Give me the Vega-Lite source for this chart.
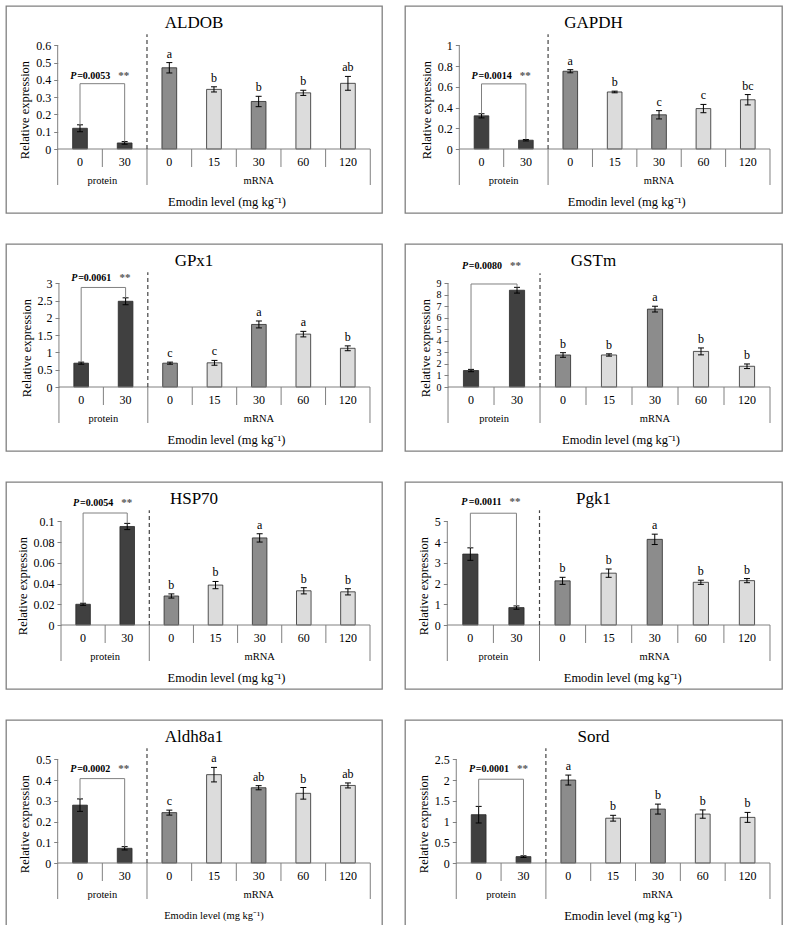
{
"$schema": "https://vega.github.io/schema/vega-lite/v6.json",
"padding": {"left": 5, "top": 5, "right": 0, "bottom": 0},
"background": "white",
"spacing": 29,
"datasets": {"d": [
{"gene":"ALDOB","cat":"P0","label":"0","grp":"protein","pat":"protein","mean":0.12,"lo":0.1,"hi":0.14,"letter":"","bracket":0.378,"plevel":0.42,"ptext":"=0.0053"},
{"gene":"ALDOB","cat":"P30","label":"30","grp":"protein","pat":"protein","mean":0.035,"lo":0.028,"hi":0.043,"letter":"","bracket":0.378},
{"gene":"ALDOB","cat":"M0","label":"0","grp":"mRNA","pat":"diag","mean":0.47,"lo":0.44,"hi":0.5,"letter":"a"},
{"gene":"ALDOB","cat":"M15","label":"15","grp":"mRNA","pat":"wave","mean":0.345,"lo":0.33,"hi":0.36,"letter":"b"},
{"gene":"ALDOB","cat":"M30","label":"30","grp":"mRNA","pat":"diag","mean":0.275,"lo":0.245,"hi":0.305,"letter":"b"},
{"gene":"ALDOB","cat":"M60","label":"60","grp":"mRNA","pat":"wave","mean":0.325,"lo":0.31,"hi":0.34,"letter":"b"},
{"gene":"ALDOB","cat":"M120","label":"120","grp":"mRNA","pat":"wave","mean":0.38,"lo":0.34,"hi":0.42,"letter":"ab"},
{"gene":"GAPDH","cat":"P0","label":"0","grp":"protein","pat":"protein","mean":0.32,"lo":0.3,"hi":0.34,"letter":"","bracket":0.628,"plevel":0.7,"ptext":"=0.0014"},
{"gene":"GAPDH","cat":"P30","label":"30","grp":"protein","pat":"protein","mean":0.085,"lo":0.078,"hi":0.092,"letter":"","bracket":0.628},
{"gene":"GAPDH","cat":"M0","label":"0","grp":"mRNA","pat":"diag","mean":0.75,"lo":0.735,"hi":0.765,"letter":"a"},
{"gene":"GAPDH","cat":"M15","label":"15","grp":"mRNA","pat":"wave","mean":0.55,"lo":0.542,"hi":0.558,"letter":"b"},
{"gene":"GAPDH","cat":"M30","label":"30","grp":"mRNA","pat":"diag","mean":0.33,"lo":0.29,"hi":0.37,"letter":"c"},
{"gene":"GAPDH","cat":"M60","label":"60","grp":"mRNA","pat":"wave","mean":0.39,"lo":0.35,"hi":0.43,"letter":"c"},
{"gene":"GAPDH","cat":"M120","label":"120","grp":"mRNA","pat":"wave","mean":0.475,"lo":0.425,"hi":0.525,"letter":"bc"},
{"gene":"GPx1","cat":"P0","label":"0","grp":"protein","pat":"protein","mean":0.69,"lo":0.66,"hi":0.72,"letter":"","bracket":2.88,"plevel":3.15,"ptext":"=0.0061"},
{"gene":"GPx1","cat":"P30","label":"30","grp":"protein","pat":"protein","mean":2.48,"lo":2.38,"hi":2.58,"letter":"","bracket":2.88},
{"gene":"GPx1","cat":"M0","label":"0","grp":"mRNA","pat":"diag","mean":0.69,"lo":0.66,"hi":0.72,"letter":"c"},
{"gene":"GPx1","cat":"M15","label":"15","grp":"mRNA","pat":"wave","mean":0.7,"lo":0.63,"hi":0.77,"letter":"c"},
{"gene":"GPx1","cat":"M30","label":"30","grp":"mRNA","pat":"diag","mean":1.81,"lo":1.71,"hi":1.91,"letter":"a"},
{"gene":"GPx1","cat":"M60","label":"60","grp":"mRNA","pat":"wave","mean":1.53,"lo":1.45,"hi":1.61,"letter":"a"},
{"gene":"GPx1","cat":"M120","label":"120","grp":"mRNA","pat":"wave","mean":1.12,"lo":1.05,"hi":1.19,"letter":"b"},
{"gene":"GSTm","cat":"P0","label":"0","grp":"protein","pat":"protein","mean":1.43,"lo":1.33,"hi":1.53,"letter":"","bracket":8.94,"plevel":10.46,"ptext":"=0.0080"},
{"gene":"GSTm","cat":"P30","label":"30","grp":"protein","pat":"protein","mean":8.4,"lo":8.15,"hi":8.65,"letter":"","bracket":8.94},
{"gene":"GSTm","cat":"M0","label":"0","grp":"mRNA","pat":"diag","mean":2.78,"lo":2.58,"hi":2.98,"letter":"b"},
{"gene":"GSTm","cat":"M15","label":"15","grp":"mRNA","pat":"wave","mean":2.78,"lo":2.68,"hi":2.88,"letter":"b"},
{"gene":"GSTm","cat":"M30","label":"30","grp":"mRNA","pat":"diag","mean":6.76,"lo":6.51,"hi":7.01,"letter":"a"},
{"gene":"GSTm","cat":"M60","label":"60","grp":"mRNA","pat":"wave","mean":3.09,"lo":2.79,"hi":3.39,"letter":"b"},
{"gene":"GSTm","cat":"M120","label":"120","grp":"mRNA","pat":"wave","mean":1.8,"lo":1.6,"hi":2.0,"letter":"b"},
{"gene":"HSP70","cat":"P0","label":"0","grp":"protein","pat":"protein","mean":0.02,"lo":0.019,"hi":0.021,"letter":"","bracket":0.108,"plevel":0.118,"ptext":"=0.0054"},
{"gene":"HSP70","cat":"P30","label":"30","grp":"protein","pat":"protein","mean":0.095,"lo":0.092,"hi":0.098,"letter":"","bracket":0.108},
{"gene":"HSP70","cat":"M0","label":"0","grp":"mRNA","pat":"diag","mean":0.028,"lo":0.026,"hi":0.03,"letter":"b"},
{"gene":"HSP70","cat":"M15","label":"15","grp":"mRNA","pat":"wave","mean":0.0385,"lo":0.035,"hi":0.042,"letter":"b"},
{"gene":"HSP70","cat":"M30","label":"30","grp":"mRNA","pat":"diag","mean":0.084,"lo":0.08,"hi":0.088,"letter":"a"},
{"gene":"HSP70","cat":"M60","label":"60","grp":"mRNA","pat":"wave","mean":0.033,"lo":0.03,"hi":0.036,"letter":"b"},
{"gene":"HSP70","cat":"M120","label":"120","grp":"mRNA","pat":"wave","mean":0.032,"lo":0.029,"hi":0.035,"letter":"b"},
{"gene":"Pgk1","cat":"P0","label":"0","grp":"protein","pat":"protein","mean":3.42,"lo":3.12,"hi":3.72,"letter":"","bracket":5.39,"plevel":5.92,"ptext":"=0.0011"},
{"gene":"Pgk1","cat":"P30","label":"30","grp":"protein","pat":"protein","mean":0.84,"lo":0.76,"hi":0.92,"letter":"","bracket":5.39},
{"gene":"Pgk1","cat":"M0","label":"0","grp":"mRNA","pat":"diag","mean":2.13,"lo":1.96,"hi":2.3,"letter":"b"},
{"gene":"Pgk1","cat":"M15","label":"15","grp":"mRNA","pat":"wave","mean":2.5,"lo":2.3,"hi":2.7,"letter":"b"},
{"gene":"Pgk1","cat":"M30","label":"30","grp":"mRNA","pat":"diag","mean":4.13,"lo":3.88,"hi":4.38,"letter":"a"},
{"gene":"Pgk1","cat":"M60","label":"60","grp":"mRNA","pat":"wave","mean":2.06,"lo":1.96,"hi":2.16,"letter":"b"},
{"gene":"Pgk1","cat":"M120","label":"120","grp":"mRNA","pat":"wave","mean":2.14,"lo":2.04,"hi":2.24,"letter":"b"},
{"gene":"Aldh8a1","cat":"P0","label":"0","grp":"protein","pat":"protein","mean":0.279,"lo":0.249,"hi":0.309,"letter":"","bracket":0.407,"plevel":0.453,"ptext":"=0.0002"},
{"gene":"Aldh8a1","cat":"P30","label":"30","grp":"protein","pat":"protein","mean":0.071,"lo":0.063,"hi":0.079,"letter":"","bracket":0.407},
{"gene":"Aldh8a1","cat":"M0","label":"0","grp":"mRNA","pat":"diag","mean":0.243,"lo":0.231,"hi":0.255,"letter":"c"},
{"gene":"Aldh8a1","cat":"M15","label":"15","grp":"mRNA","pat":"wave","mean":0.426,"lo":0.391,"hi":0.461,"letter":"a"},
{"gene":"Aldh8a1","cat":"M30","label":"30","grp":"mRNA","pat":"diag","mean":0.363,"lo":0.353,"hi":0.373,"letter":"ab"},
{"gene":"Aldh8a1","cat":"M60","label":"60","grp":"mRNA","pat":"wave","mean":0.336,"lo":0.308,"hi":0.364,"letter":"b"},
{"gene":"Aldh8a1","cat":"M120","label":"120","grp":"mRNA","pat":"wave","mean":0.374,"lo":0.362,"hi":0.386,"letter":"ab"},
{"gene":"Sord","cat":"P0","label":"0","grp":"protein","pat":"protein","mean":1.165,"lo":0.965,"hi":1.365,"letter":"","bracket":2.02,"plevel":2.26,"ptext":"=0.0001"},
{"gene":"Sord","cat":"P30","label":"30","grp":"protein","pat":"protein","mean":0.154,"lo":0.134,"hi":0.174,"letter":"","bracket":2.02},
{"gene":"Sord","cat":"M0","label":"0","grp":"mRNA","pat":"diag","mean":2.0,"lo":1.88,"hi":2.12,"letter":"a"},
{"gene":"Sord","cat":"M15","label":"15","grp":"mRNA","pat":"wave","mean":1.08,"lo":1.01,"hi":1.15,"letter":"b"},
{"gene":"Sord","cat":"M30","label":"30","grp":"mRNA","pat":"diag","mean":1.3,"lo":1.18,"hi":1.42,"letter":"b"},
{"gene":"Sord","cat":"M60","label":"60","grp":"mRNA","pat":"wave","mean":1.18,"lo":1.08,"hi":1.28,"letter":"b"},
{"gene":"Sord","cat":"M120","label":"120","grp":"mRNA","pat":"wave","mean":1.1,"lo":0.98,"hi":1.22,"letter":"b"}
]},
"data": {"name": "d"},
"vconcat": [
{"hconcat": [
{"width": 376, "height": 207, "title": "ALDOB", "transform": [{"filter": "datum.gene == 'ALDOB'"}],
 "layer": [
  {"mark": {"type": "bar", "width": {"band": 0.33}, "stroke": "#2a2a2a", "strokeWidth": 0.8},
   "encoding": {"x": {"field": "cat", "type": "nominal", "scale": {"domain": ["P0","P30","M0","M15","M30","M60","M120"], "paddingInner": 0, "paddingOuter": 0.71, "align": 0.815}, "axis": null},
    "y": {"field": "mean", "type": "quantitative", "scale": {"domain": [-0.3702, 0.8274], "nice": false, "zero": false}, "axis": {"values": [0,0.1,0.2,0.3,0.4,0.5,0.6], "tickCount": 20, "offset": -51.7, "title": "Relative expression", "labelOverlap": false, "labelFlush": false, "format": "~g", "labelBound": false}},
    "fill": {"field": "pat", "type": "nominal", "scale": {"domain": ["protein","diag","wave"], "range": ["#404040","#8c8c8c","#dcdcdc"]}, "legend": null}}},
  {"mark": {"type": "rule", "color": "black"}, "encoding": {"x": {"field": "cat", "type": "nominal"}, "y": {"field": "lo", "type": "quantitative"}, "y2": {"field": "hi"}}},
  {"mark": {"type": "tick", "orient": "horizontal", "size": 6, "thickness": 1, "color": "black", "opacity": 1}, "encoding": {"x": {"field": "cat", "type": "nominal"}, "y": {"field": "lo", "type": "quantitative"}}},
  {"mark": {"type": "tick", "orient": "horizontal", "size": 6, "thickness": 1, "color": "black", "opacity": 1}, "encoding": {"x": {"field": "cat", "type": "nominal"}, "y": {"field": "hi", "type": "quantitative"}}},
  {"transform": [{"filter": "datum.grp == 'mRNA'"}], "mark": {"type": "text", "baseline": "bottom", "dy": -2, "font": "Liberation Serif", "fontSize": 12, "color": "black"}, "encoding": {"x": {"field": "cat", "type": "nominal"}, "y": {"field": "hi", "type": "quantitative"}, "text": {"field": "letter"}}},
  {"transform": [{"filter": "datum.grp == 'protein'"}], "mark": {"type": "rule", "color": "#808080"}, "encoding": {"x": {"field": "cat", "type": "nominal"}, "y": {"field": "hi", "type": "quantitative"}, "y2": {"field": "bracket"}}},
  {"transform": [{"filter": "datum.cat == 'P0'"}], "mark": {"type": "rule", "color": "#808080"}, "encoding": {"x": {"datum": "P0", "type": "nominal"}, "x2": {"datum": "P30"}, "y": {"field": "bracket", "type": "quantitative"}}},
  {"transform": [{"filter": "datum.cat == 'P0'"}], "mark": {"type": "text", "align": "right", "baseline": "middle", "dx": 8, "fontWeight": "bold", "fontSize": 10, "font": "Liberation Serif", "color": "black"}, "encoding": {"x": {"datum": "P30", "type": "nominal", "bandPosition": 0}, "y": {"field": "plevel", "type": "quantitative"}, "text": {"field": "ptext"}}},
  {"transform": [{"filter": "datum.cat == 'P0'"}], "mark": {"type": "text", "align": "right", "baseline": "middle", "dx": -26, "fontWeight": "bold", "fontStyle": "italic", "fontSize": 10, "font": "Liberation Serif", "color": "black"}, "encoding": {"x": {"datum": "P30", "type": "nominal", "bandPosition": 0}, "y": {"field": "plevel", "type": "quantitative"}, "text": {"value": "P"}}},
  {"transform": [{"filter": "datum.cat == 'P0'"}], "mark": {"type": "text", "align": "left", "baseline": "middle", "dx": 16, "fontWeight": "bold", "fontSize": 11, "font": "Liberation Serif", "color": "#555555"}, "encoding": {"x": {"datum": "P30", "type": "nominal", "bandPosition": 0}, "y": {"field": "plevel", "type": "quantitative"}, "text": {"value": "**"}}},
  {"transform": [{"filter": "datum.cat == 'P0'"}], "mark": {"type": "rule", "color": "#808080"}, "encoding": {"x": {"datum": "P0", "type": "nominal", "bandPosition": 0}, "x2": {"datum": "M120", "bandPosition": 1}, "y": {"datum": 0, "type": "quantitative"}}},
  {"transform": [{"filter": "datum.cat == 'P0'"}], "mark": {"type": "rule", "color": "#808080"}, "encoding": {"x": {"datum": "P0", "type": "nominal", "bandPosition": 0}, "y": {"datum": 0, "type": "quantitative"}, "y2": {"datum": 0.6}}},
  {"transform": [{"filter": "datum.cat != 'P0' && datum.cat != 'M0'"}], "mark": {"type": "rule", "color": "#808080", "y2Offset": 18}, "encoding": {"x": {"field": "cat", "type": "nominal", "bandPosition": 0}, "y": {"datum": 0, "type": "quantitative"}, "y2": {"datum": 0}}},
  {"transform": [{"filter": "datum.cat == 'P0' || datum.cat == 'M0'"}], "mark": {"type": "rule", "color": "#808080", "y2Offset": 36}, "encoding": {"x": {"field": "cat", "type": "nominal", "bandPosition": 0}, "y": {"datum": 0, "type": "quantitative"}, "y2": {"datum": 0}}},
  {"transform": [{"filter": "datum.cat == 'P0'"}], "mark": {"type": "rule", "color": "#808080", "y2Offset": 36}, "encoding": {"x": {"datum": "M120", "type": "nominal", "bandPosition": 1}, "y": {"datum": 0, "type": "quantitative"}, "y2": {"datum": 0}}},
  {"transform": [{"filter": "datum.cat == 'P0'"}], "mark": {"type": "rule", "y2Offset": -11, "strokeDash": [4, 3], "color": "#444444", "strokeWidth": 1.2}, "encoding": {"x": {"datum": "M0", "type": "nominal", "bandPosition": 0}, "y": {"datum": 0, "type": "quantitative"}, "y2": {"datum": 0.6}}},
  {"mark": {"type": "text", "baseline": "middle", "dy": 13, "font": "Liberation Serif", "fontSize": 12, "color": "black"}, "encoding": {"x": {"field": "cat", "type": "nominal"}, "y": {"datum": 0, "type": "quantitative"}, "text": {"field": "label"}}},
  {"transform": [{"filter": "datum.cat == 'P0'"}], "mark": {"type": "text", "baseline": "middle", "dy": 31.5, "font": "Liberation Serif", "fontSize": 10.5, "color": "black"}, "encoding": {"x": {"datum": "P30", "type": "nominal", "bandPosition": 0}, "y": {"datum": 0, "type": "quantitative"}, "text": {"value": "protein"}}},
  {"transform": [{"filter": "datum.cat == 'P0'"}], "mark": {"type": "text", "baseline": "middle", "dy": 31.5, "font": "Liberation Serif", "fontSize": 10.5, "color": "black"}, "encoding": {"x": {"datum": "M30", "type": "nominal"}, "y": {"datum": 0, "type": "quantitative"}, "text": {"value": "mRNA"}}},
  {"transform": [{"filter": "datum.cat == 'P0'"}], "mark": {"type": "text", "baseline": "middle", "dy": 52.5, "dx": 13, "font": "Liberation Serif", "fontSize": 12.5, "color": "black"}, "encoding": {"x": {"datum": "M15", "type": "nominal"}, "y": {"datum": 0, "type": "quantitative"}, "text": {"value": "Emodin level (mg kg⁻¹)"}}}
 ]},
{"width": 377, "height": 207, "title": "GAPDH", "transform": [{"filter": "datum.gene == 'GAPDH'"}],
 "layer": [
  {"mark": {"type": "bar", "width": {"band": 0.33}, "stroke": "#2a2a2a", "strokeWidth": 0.8},
   "encoding": {"x": {"field": "cat", "type": "nominal", "scale": {"domain": ["P0","P30","M0","M15","M30","M60","M120"], "paddingInner": 0, "paddingOuter": 0.747, "align": 0.819}, "axis": null},
    "y": {"field": "mean", "type": "quantitative", "scale": {"domain": [-0.617, 1.379], "nice": false, "zero": false}, "axis": {"values": [0,0.2,0.4,0.6,0.8,1], "tickCount": 20, "offset": -54.3, "title": "Relative expression", "labelOverlap": false, "labelFlush": false, "format": "~g", "labelBound": false}},
    "fill": {"field": "pat", "type": "nominal", "scale": {"domain": ["protein","diag","wave"], "range": ["#404040","#8c8c8c","#dcdcdc"]}, "legend": null}}},
  {"mark": {"type": "rule", "color": "black"}, "encoding": {"x": {"field": "cat", "type": "nominal"}, "y": {"field": "lo", "type": "quantitative"}, "y2": {"field": "hi"}}},
  {"mark": {"type": "tick", "orient": "horizontal", "size": 6, "thickness": 1, "color": "black", "opacity": 1}, "encoding": {"x": {"field": "cat", "type": "nominal"}, "y": {"field": "lo", "type": "quantitative"}}},
  {"mark": {"type": "tick", "orient": "horizontal", "size": 6, "thickness": 1, "color": "black", "opacity": 1}, "encoding": {"x": {"field": "cat", "type": "nominal"}, "y": {"field": "hi", "type": "quantitative"}}},
  {"transform": [{"filter": "datum.grp == 'mRNA'"}], "mark": {"type": "text", "baseline": "bottom", "dy": -2, "font": "Liberation Serif", "fontSize": 12, "color": "black"}, "encoding": {"x": {"field": "cat", "type": "nominal"}, "y": {"field": "hi", "type": "quantitative"}, "text": {"field": "letter"}}},
  {"transform": [{"filter": "datum.grp == 'protein'"}], "mark": {"type": "rule", "color": "#808080"}, "encoding": {"x": {"field": "cat", "type": "nominal"}, "y": {"field": "hi", "type": "quantitative"}, "y2": {"field": "bracket"}}},
  {"transform": [{"filter": "datum.cat == 'P0'"}], "mark": {"type": "rule", "color": "#808080"}, "encoding": {"x": {"datum": "P0", "type": "nominal"}, "x2": {"datum": "P30"}, "y": {"field": "bracket", "type": "quantitative"}}},
  {"transform": [{"filter": "datum.cat == 'P0'"}], "mark": {"type": "text", "align": "right", "baseline": "middle", "dx": 8, "fontWeight": "bold", "fontSize": 10, "font": "Liberation Serif", "color": "black"}, "encoding": {"x": {"datum": "P30", "type": "nominal", "bandPosition": 0}, "y": {"field": "plevel", "type": "quantitative"}, "text": {"field": "ptext"}}},
  {"transform": [{"filter": "datum.cat == 'P0'"}], "mark": {"type": "text", "align": "right", "baseline": "middle", "dx": -26, "fontWeight": "bold", "fontStyle": "italic", "fontSize": 10, "font": "Liberation Serif", "color": "black"}, "encoding": {"x": {"datum": "P30", "type": "nominal", "bandPosition": 0}, "y": {"field": "plevel", "type": "quantitative"}, "text": {"value": "P"}}},
  {"transform": [{"filter": "datum.cat == 'P0'"}], "mark": {"type": "text", "align": "left", "baseline": "middle", "dx": 16, "fontWeight": "bold", "fontSize": 11, "font": "Liberation Serif", "color": "#555555"}, "encoding": {"x": {"datum": "P30", "type": "nominal", "bandPosition": 0}, "y": {"field": "plevel", "type": "quantitative"}, "text": {"value": "**"}}},
  {"transform": [{"filter": "datum.cat == 'P0'"}], "mark": {"type": "rule", "color": "#808080"}, "encoding": {"x": {"datum": "P0", "type": "nominal", "bandPosition": 0}, "x2": {"datum": "M120", "bandPosition": 1}, "y": {"datum": 0, "type": "quantitative"}}},
  {"transform": [{"filter": "datum.cat == 'P0'"}], "mark": {"type": "rule", "color": "#808080"}, "encoding": {"x": {"datum": "P0", "type": "nominal", "bandPosition": 0}, "y": {"datum": 0, "type": "quantitative"}, "y2": {"datum": 1}}},
  {"transform": [{"filter": "datum.cat != 'P0' && datum.cat != 'M0'"}], "mark": {"type": "rule", "color": "#808080", "y2Offset": 18}, "encoding": {"x": {"field": "cat", "type": "nominal", "bandPosition": 0}, "y": {"datum": 0, "type": "quantitative"}, "y2": {"datum": 0}}},
  {"transform": [{"filter": "datum.cat == 'P0' || datum.cat == 'M0'"}], "mark": {"type": "rule", "color": "#808080", "y2Offset": 36}, "encoding": {"x": {"field": "cat", "type": "nominal", "bandPosition": 0}, "y": {"datum": 0, "type": "quantitative"}, "y2": {"datum": 0}}},
  {"transform": [{"filter": "datum.cat == 'P0'"}], "mark": {"type": "rule", "color": "#808080", "y2Offset": 36}, "encoding": {"x": {"datum": "M120", "type": "nominal", "bandPosition": 1}, "y": {"datum": 0, "type": "quantitative"}, "y2": {"datum": 0}}},
  {"transform": [{"filter": "datum.cat == 'P0'"}], "mark": {"type": "rule", "y2Offset": -11, "strokeDash": [4, 3], "color": "#444444", "strokeWidth": 1.2}, "encoding": {"x": {"datum": "M0", "type": "nominal", "bandPosition": 0}, "y": {"datum": 0, "type": "quantitative"}, "y2": {"datum": 1}}},
  {"mark": {"type": "text", "baseline": "middle", "dy": 13, "font": "Liberation Serif", "fontSize": 12, "color": "black"}, "encoding": {"x": {"field": "cat", "type": "nominal"}, "y": {"datum": 0, "type": "quantitative"}, "text": {"field": "label"}}},
  {"transform": [{"filter": "datum.cat == 'P0'"}], "mark": {"type": "text", "baseline": "middle", "dy": 31.5, "font": "Liberation Serif", "fontSize": 10.5, "color": "black"}, "encoding": {"x": {"datum": "P30", "type": "nominal", "bandPosition": 0}, "y": {"datum": 0, "type": "quantitative"}, "text": {"value": "protein"}}},
  {"transform": [{"filter": "datum.cat == 'P0'"}], "mark": {"type": "text", "baseline": "middle", "dy": 31.5, "font": "Liberation Serif", "fontSize": 10.5, "color": "black"}, "encoding": {"x": {"datum": "M30", "type": "nominal"}, "y": {"datum": 0, "type": "quantitative"}, "text": {"value": "mRNA"}}},
  {"transform": [{"filter": "datum.cat == 'P0'"}], "mark": {"type": "text", "baseline": "middle", "dy": 52.5, "dx": 12, "font": "Liberation Serif", "fontSize": 12.5, "color": "black"}, "encoding": {"x": {"datum": "M15", "type": "nominal"}, "y": {"datum": 0, "type": "quantitative"}, "text": {"value": "Emodin level (mg kg⁻¹)"}}}
 ]}
], "spacing": 21},
{"hconcat": [
{"width": 376, "height": 207, "title": "GPx1", "transform": [{"filter": "datum.gene == 'GPx1'"}],
 "layer": [
  {"mark": {"type": "bar", "width": {"band": 0.33}, "stroke": "#2a2a2a", "strokeWidth": 0.8},
   "encoding": {"x": {"field": "cat", "type": "nominal", "scale": {"domain": ["P0","P30","M0","M15","M30","M60","M120"], "paddingInner": 0, "paddingOuter": 0.731, "align": 0.815}, "axis": null},
    "y": {"field": "mean", "type": "quantitative", "scale": {"domain": [-1.851, 4.137], "nice": false, "zero": false}, "axis": {"values": [0,0.5,1,1.5,2,2.5,3], "tickCount": 20, "offset": -53, "title": "Relative expression", "labelOverlap": false, "labelFlush": false, "format": "~g", "labelBound": false}},
    "fill": {"field": "pat", "type": "nominal", "scale": {"domain": ["protein","diag","wave"], "range": ["#404040","#8c8c8c","#dcdcdc"]}, "legend": null}}},
  {"mark": {"type": "rule", "color": "black"}, "encoding": {"x": {"field": "cat", "type": "nominal"}, "y": {"field": "lo", "type": "quantitative"}, "y2": {"field": "hi"}}},
  {"mark": {"type": "tick", "orient": "horizontal", "size": 6, "thickness": 1, "color": "black", "opacity": 1}, "encoding": {"x": {"field": "cat", "type": "nominal"}, "y": {"field": "lo", "type": "quantitative"}}},
  {"mark": {"type": "tick", "orient": "horizontal", "size": 6, "thickness": 1, "color": "black", "opacity": 1}, "encoding": {"x": {"field": "cat", "type": "nominal"}, "y": {"field": "hi", "type": "quantitative"}}},
  {"transform": [{"filter": "datum.grp == 'mRNA'"}], "mark": {"type": "text", "baseline": "bottom", "dy": -2, "font": "Liberation Serif", "fontSize": 12, "color": "black"}, "encoding": {"x": {"field": "cat", "type": "nominal"}, "y": {"field": "hi", "type": "quantitative"}, "text": {"field": "letter"}}},
  {"transform": [{"filter": "datum.grp == 'protein'"}], "mark": {"type": "rule", "color": "#808080"}, "encoding": {"x": {"field": "cat", "type": "nominal"}, "y": {"field": "hi", "type": "quantitative"}, "y2": {"field": "bracket"}}},
  {"transform": [{"filter": "datum.cat == 'P0'"}], "mark": {"type": "rule", "color": "#808080"}, "encoding": {"x": {"datum": "P0", "type": "nominal"}, "x2": {"datum": "P30"}, "y": {"field": "bracket", "type": "quantitative"}}},
  {"transform": [{"filter": "datum.cat == 'P0'"}], "mark": {"type": "text", "align": "right", "baseline": "middle", "dx": 8, "fontWeight": "bold", "fontSize": 10, "font": "Liberation Serif", "color": "black"}, "encoding": {"x": {"datum": "P30", "type": "nominal", "bandPosition": 0}, "y": {"field": "plevel", "type": "quantitative"}, "text": {"field": "ptext"}}},
  {"transform": [{"filter": "datum.cat == 'P0'"}], "mark": {"type": "text", "align": "right", "baseline": "middle", "dx": -26, "fontWeight": "bold", "fontStyle": "italic", "fontSize": 10, "font": "Liberation Serif", "color": "black"}, "encoding": {"x": {"datum": "P30", "type": "nominal", "bandPosition": 0}, "y": {"field": "plevel", "type": "quantitative"}, "text": {"value": "P"}}},
  {"transform": [{"filter": "datum.cat == 'P0'"}], "mark": {"type": "text", "align": "left", "baseline": "middle", "dx": 16, "fontWeight": "bold", "fontSize": 11, "font": "Liberation Serif", "color": "#555555"}, "encoding": {"x": {"datum": "P30", "type": "nominal", "bandPosition": 0}, "y": {"field": "plevel", "type": "quantitative"}, "text": {"value": "**"}}},
  {"transform": [{"filter": "datum.cat == 'P0'"}], "mark": {"type": "rule", "color": "#808080"}, "encoding": {"x": {"datum": "P0", "type": "nominal", "bandPosition": 0}, "x2": {"datum": "M120", "bandPosition": 1}, "y": {"datum": 0, "type": "quantitative"}}},
  {"transform": [{"filter": "datum.cat == 'P0'"}], "mark": {"type": "rule", "color": "#808080"}, "encoding": {"x": {"datum": "P0", "type": "nominal", "bandPosition": 0}, "y": {"datum": 0, "type": "quantitative"}, "y2": {"datum": 3}}},
  {"transform": [{"filter": "datum.cat != 'P0' && datum.cat != 'M0'"}], "mark": {"type": "rule", "color": "#808080", "y2Offset": 18}, "encoding": {"x": {"field": "cat", "type": "nominal", "bandPosition": 0}, "y": {"datum": 0, "type": "quantitative"}, "y2": {"datum": 0}}},
  {"transform": [{"filter": "datum.cat == 'P0' || datum.cat == 'M0'"}], "mark": {"type": "rule", "color": "#808080", "y2Offset": 36}, "encoding": {"x": {"field": "cat", "type": "nominal", "bandPosition": 0}, "y": {"datum": 0, "type": "quantitative"}, "y2": {"datum": 0}}},
  {"transform": [{"filter": "datum.cat == 'P0'"}], "mark": {"type": "rule", "color": "#808080", "y2Offset": 36}, "encoding": {"x": {"datum": "M120", "type": "nominal", "bandPosition": 1}, "y": {"datum": 0, "type": "quantitative"}, "y2": {"datum": 0}}},
  {"transform": [{"filter": "datum.cat == 'P0'"}], "mark": {"type": "rule", "y2Offset": -11, "strokeDash": [4, 3], "color": "#444444", "strokeWidth": 1.2}, "encoding": {"x": {"datum": "M0", "type": "nominal", "bandPosition": 0}, "y": {"datum": 0, "type": "quantitative"}, "y2": {"datum": 3}}},
  {"mark": {"type": "text", "baseline": "middle", "dy": 13, "font": "Liberation Serif", "fontSize": 12, "color": "black"}, "encoding": {"x": {"field": "cat", "type": "nominal"}, "y": {"datum": 0, "type": "quantitative"}, "text": {"field": "label"}}},
  {"transform": [{"filter": "datum.cat == 'P0'"}], "mark": {"type": "text", "baseline": "middle", "dy": 31.5, "font": "Liberation Serif", "fontSize": 10.5, "color": "black"}, "encoding": {"x": {"datum": "P30", "type": "nominal", "bandPosition": 0}, "y": {"datum": 0, "type": "quantitative"}, "text": {"value": "protein"}}},
  {"transform": [{"filter": "datum.cat == 'P0'"}], "mark": {"type": "text", "baseline": "middle", "dy": 31.5, "font": "Liberation Serif", "fontSize": 10.5, "color": "black"}, "encoding": {"x": {"datum": "M30", "type": "nominal"}, "y": {"datum": 0, "type": "quantitative"}, "text": {"value": "mRNA"}}},
  {"transform": [{"filter": "datum.cat == 'P0'"}], "mark": {"type": "text", "baseline": "middle", "dy": 52.5, "dx": 12, "font": "Liberation Serif", "fontSize": 12.5, "color": "black"}, "encoding": {"x": {"datum": "M15", "type": "nominal"}, "y": {"datum": 0, "type": "quantitative"}, "text": {"value": "Emodin level (mg kg⁻¹)"}}}
 ]},
{"width": 377, "height": 207, "title": "GSTm", "transform": [{"filter": "datum.gene == 'GSTm'"}],
 "layer": [
  {"mark": {"type": "bar", "width": {"band": 0.33}, "stroke": "#2a2a2a", "strokeWidth": 0.8},
   "encoding": {"x": {"field": "cat", "type": "nominal", "scale": {"domain": ["P0","P30","M0","M15","M30","M60","M120"], "paddingInner": 0, "paddingOuter": 0.598, "align": 0.782}, "axis": null},
    "y": {"field": "mean", "type": "quantitative", "scale": {"domain": [-5.553, 12.411], "nice": false, "zero": false}, "axis": {"values": [0,1,2,3,4,5,6,7,8,9], "tickCount": 20, "offset": -43, "title": "Relative expression", "labelFontSize": 10, "labelOverlap": false, "labelFlush": false, "format": "~g", "labelBound": false}},
    "fill": {"field": "pat", "type": "nominal", "scale": {"domain": ["protein","diag","wave"], "range": ["#404040","#8c8c8c","#dcdcdc"]}, "legend": null}}},
  {"mark": {"type": "rule", "color": "black"}, "encoding": {"x": {"field": "cat", "type": "nominal"}, "y": {"field": "lo", "type": "quantitative"}, "y2": {"field": "hi"}}},
  {"mark": {"type": "tick", "orient": "horizontal", "size": 6, "thickness": 1, "color": "black", "opacity": 1}, "encoding": {"x": {"field": "cat", "type": "nominal"}, "y": {"field": "lo", "type": "quantitative"}}},
  {"mark": {"type": "tick", "orient": "horizontal", "size": 6, "thickness": 1, "color": "black", "opacity": 1}, "encoding": {"x": {"field": "cat", "type": "nominal"}, "y": {"field": "hi", "type": "quantitative"}}},
  {"transform": [{"filter": "datum.grp == 'mRNA'"}], "mark": {"type": "text", "baseline": "bottom", "dy": -2, "font": "Liberation Serif", "fontSize": 12, "color": "black"}, "encoding": {"x": {"field": "cat", "type": "nominal"}, "y": {"field": "hi", "type": "quantitative"}, "text": {"field": "letter"}}},
  {"transform": [{"filter": "datum.grp == 'protein'"}], "mark": {"type": "rule", "color": "#808080"}, "encoding": {"x": {"field": "cat", "type": "nominal"}, "y": {"field": "hi", "type": "quantitative"}, "y2": {"field": "bracket"}}},
  {"transform": [{"filter": "datum.cat == 'P0'"}], "mark": {"type": "rule", "color": "#808080"}, "encoding": {"x": {"datum": "P0", "type": "nominal"}, "x2": {"datum": "P30"}, "y": {"field": "bracket", "type": "quantitative"}}},
  {"transform": [{"filter": "datum.cat == 'P0'"}], "mark": {"type": "text", "align": "right", "baseline": "middle", "dx": 8, "fontWeight": "bold", "fontSize": 10, "font": "Liberation Serif", "color": "black"}, "encoding": {"x": {"datum": "P30", "type": "nominal", "bandPosition": 0}, "y": {"field": "plevel", "type": "quantitative"}, "text": {"field": "ptext"}}},
  {"transform": [{"filter": "datum.cat == 'P0'"}], "mark": {"type": "text", "align": "right", "baseline": "middle", "dx": -26, "fontWeight": "bold", "fontStyle": "italic", "fontSize": 10, "font": "Liberation Serif", "color": "black"}, "encoding": {"x": {"datum": "P30", "type": "nominal", "bandPosition": 0}, "y": {"field": "plevel", "type": "quantitative"}, "text": {"value": "P"}}},
  {"transform": [{"filter": "datum.cat == 'P0'"}], "mark": {"type": "text", "align": "left", "baseline": "middle", "dx": 16, "fontWeight": "bold", "fontSize": 11, "font": "Liberation Serif", "color": "#555555"}, "encoding": {"x": {"datum": "P30", "type": "nominal", "bandPosition": 0}, "y": {"field": "plevel", "type": "quantitative"}, "text": {"value": "**"}}},
  {"transform": [{"filter": "datum.cat == 'P0'"}], "mark": {"type": "rule", "color": "#808080"}, "encoding": {"x": {"datum": "P0", "type": "nominal", "bandPosition": 0}, "x2": {"datum": "M120", "bandPosition": 1}, "y": {"datum": 0, "type": "quantitative"}}},
  {"transform": [{"filter": "datum.cat == 'P0'"}], "mark": {"type": "rule", "color": "#808080"}, "encoding": {"x": {"datum": "P0", "type": "nominal", "bandPosition": 0}, "y": {"datum": 0, "type": "quantitative"}, "y2": {"datum": 9}}},
  {"transform": [{"filter": "datum.cat != 'P0' && datum.cat != 'M0'"}], "mark": {"type": "rule", "color": "#808080", "y2Offset": 18}, "encoding": {"x": {"field": "cat", "type": "nominal", "bandPosition": 0}, "y": {"datum": 0, "type": "quantitative"}, "y2": {"datum": 0}}},
  {"transform": [{"filter": "datum.cat == 'P0' || datum.cat == 'M0'"}], "mark": {"type": "rule", "color": "#808080", "y2Offset": 36}, "encoding": {"x": {"field": "cat", "type": "nominal", "bandPosition": 0}, "y": {"datum": 0, "type": "quantitative"}, "y2": {"datum": 0}}},
  {"transform": [{"filter": "datum.cat == 'P0'"}], "mark": {"type": "rule", "color": "#808080", "y2Offset": 36}, "encoding": {"x": {"datum": "M120", "type": "nominal", "bandPosition": 1}, "y": {"datum": 0, "type": "quantitative"}, "y2": {"datum": 0}}},
  {"transform": [{"filter": "datum.cat == 'P0'"}], "mark": {"type": "rule", "y2Offset": -10, "strokeDash": [4, 3], "color": "#444444", "strokeWidth": 1.2}, "encoding": {"x": {"datum": "M0", "type": "nominal", "bandPosition": 0}, "y": {"datum": 0, "type": "quantitative"}, "y2": {"datum": 9}}},
  {"mark": {"type": "text", "baseline": "middle", "dy": 13, "font": "Liberation Serif", "fontSize": 12, "color": "black"}, "encoding": {"x": {"field": "cat", "type": "nominal"}, "y": {"datum": 0, "type": "quantitative"}, "text": {"field": "label"}}},
  {"transform": [{"filter": "datum.cat == 'P0'"}], "mark": {"type": "text", "baseline": "middle", "dy": 31.5, "font": "Liberation Serif", "fontSize": 10.5, "color": "black"}, "encoding": {"x": {"datum": "P30", "type": "nominal", "bandPosition": 0}, "y": {"datum": 0, "type": "quantitative"}, "text": {"value": "protein"}}},
  {"transform": [{"filter": "datum.cat == 'P0'"}], "mark": {"type": "text", "baseline": "middle", "dy": 31.5, "font": "Liberation Serif", "fontSize": 10.5, "color": "black"}, "encoding": {"x": {"datum": "M30", "type": "nominal"}, "y": {"datum": 0, "type": "quantitative"}, "text": {"value": "mRNA"}}},
  {"transform": [{"filter": "datum.cat == 'P0'"}], "mark": {"type": "text", "baseline": "middle", "dy": 52.5, "dx": 12, "font": "Liberation Serif", "fontSize": 12.5, "color": "black"}, "encoding": {"x": {"datum": "M15", "type": "nominal"}, "y": {"datum": 0, "type": "quantitative"}, "text": {"value": "Emodin level (mg kg⁻¹)"}}}
 ]}
], "spacing": 21},
{"hconcat": [
{"width": 376, "height": 207, "title": "HSP70", "transform": [{"filter": "datum.gene == 'HSP70'"}],
 "layer": [
  {"mark": {"type": "bar", "width": {"band": 0.33}, "stroke": "#2a2a2a", "strokeWidth": 0.8},
   "encoding": {"x": {"field": "cat", "type": "nominal", "scale": {"domain": ["P0","P30","M0","M15","M30","M60","M120"], "paddingInner": 0, "paddingOuter": 0.759, "align": 0.821}, "axis": null},
    "y": {"field": "mean", "type": "quantitative", "scale": {"domain": [-0.0617, 0.1379], "nice": false, "zero": false}, "axis": {"values": [0,0.02,0.04,0.06,0.08,0.1], "tickCount": 20, "offset": -55, "title": "Relative expression", "labelOverlap": false, "labelFlush": false, "format": "~g", "labelBound": false}},
    "fill": {"field": "pat", "type": "nominal", "scale": {"domain": ["protein","diag","wave"], "range": ["#404040","#8c8c8c","#dcdcdc"]}, "legend": null}}},
  {"mark": {"type": "rule", "color": "black"}, "encoding": {"x": {"field": "cat", "type": "nominal"}, "y": {"field": "lo", "type": "quantitative"}, "y2": {"field": "hi"}}},
  {"mark": {"type": "tick", "orient": "horizontal", "size": 6, "thickness": 1, "color": "black", "opacity": 1}, "encoding": {"x": {"field": "cat", "type": "nominal"}, "y": {"field": "lo", "type": "quantitative"}}},
  {"mark": {"type": "tick", "orient": "horizontal", "size": 6, "thickness": 1, "color": "black", "opacity": 1}, "encoding": {"x": {"field": "cat", "type": "nominal"}, "y": {"field": "hi", "type": "quantitative"}}},
  {"transform": [{"filter": "datum.grp == 'mRNA'"}], "mark": {"type": "text", "baseline": "bottom", "dy": -2, "font": "Liberation Serif", "fontSize": 12, "color": "black"}, "encoding": {"x": {"field": "cat", "type": "nominal"}, "y": {"field": "hi", "type": "quantitative"}, "text": {"field": "letter"}}},
  {"transform": [{"filter": "datum.grp == 'protein'"}], "mark": {"type": "rule", "color": "#808080"}, "encoding": {"x": {"field": "cat", "type": "nominal"}, "y": {"field": "hi", "type": "quantitative"}, "y2": {"field": "bracket"}}},
  {"transform": [{"filter": "datum.cat == 'P0'"}], "mark": {"type": "rule", "color": "#808080"}, "encoding": {"x": {"datum": "P0", "type": "nominal"}, "x2": {"datum": "P30"}, "y": {"field": "bracket", "type": "quantitative"}}},
  {"transform": [{"filter": "datum.cat == 'P0'"}], "mark": {"type": "text", "align": "right", "baseline": "middle", "dx": 8, "fontWeight": "bold", "fontSize": 10, "font": "Liberation Serif", "color": "black"}, "encoding": {"x": {"datum": "P30", "type": "nominal", "bandPosition": 0}, "y": {"field": "plevel", "type": "quantitative"}, "text": {"field": "ptext"}}},
  {"transform": [{"filter": "datum.cat == 'P0'"}], "mark": {"type": "text", "align": "right", "baseline": "middle", "dx": -26, "fontWeight": "bold", "fontStyle": "italic", "fontSize": 10, "font": "Liberation Serif", "color": "black"}, "encoding": {"x": {"datum": "P30", "type": "nominal", "bandPosition": 0}, "y": {"field": "plevel", "type": "quantitative"}, "text": {"value": "P"}}},
  {"transform": [{"filter": "datum.cat == 'P0'"}], "mark": {"type": "text", "align": "left", "baseline": "middle", "dx": 16, "fontWeight": "bold", "fontSize": 11, "font": "Liberation Serif", "color": "#555555"}, "encoding": {"x": {"datum": "P30", "type": "nominal", "bandPosition": 0}, "y": {"field": "plevel", "type": "quantitative"}, "text": {"value": "**"}}},
  {"transform": [{"filter": "datum.cat == 'P0'"}], "mark": {"type": "rule", "color": "#808080"}, "encoding": {"x": {"datum": "P0", "type": "nominal", "bandPosition": 0}, "x2": {"datum": "M120", "bandPosition": 1}, "y": {"datum": 0, "type": "quantitative"}}},
  {"transform": [{"filter": "datum.cat == 'P0'"}], "mark": {"type": "rule", "color": "#808080"}, "encoding": {"x": {"datum": "P0", "type": "nominal", "bandPosition": 0}, "y": {"datum": 0, "type": "quantitative"}, "y2": {"datum": 0.1}}},
  {"transform": [{"filter": "datum.cat != 'P0' && datum.cat != 'M0'"}], "mark": {"type": "rule", "color": "#808080", "y2Offset": 18}, "encoding": {"x": {"field": "cat", "type": "nominal", "bandPosition": 0}, "y": {"datum": 0, "type": "quantitative"}, "y2": {"datum": 0}}},
  {"transform": [{"filter": "datum.cat == 'P0' || datum.cat == 'M0'"}], "mark": {"type": "rule", "color": "#808080", "y2Offset": 36}, "encoding": {"x": {"field": "cat", "type": "nominal", "bandPosition": 0}, "y": {"datum": 0, "type": "quantitative"}, "y2": {"datum": 0}}},
  {"transform": [{"filter": "datum.cat == 'P0'"}], "mark": {"type": "rule", "color": "#808080", "y2Offset": 36}, "encoding": {"x": {"datum": "M120", "type": "nominal", "bandPosition": 1}, "y": {"datum": 0, "type": "quantitative"}, "y2": {"datum": 0}}},
  {"transform": [{"filter": "datum.cat == 'P0'"}], "mark": {"type": "rule", "y2Offset": -11, "strokeDash": [4, 3], "color": "#444444", "strokeWidth": 1.2}, "encoding": {"x": {"datum": "M0", "type": "nominal", "bandPosition": 0}, "y": {"datum": 0, "type": "quantitative"}, "y2": {"datum": 0.1}}},
  {"mark": {"type": "text", "baseline": "middle", "dy": 13, "font": "Liberation Serif", "fontSize": 12, "color": "black"}, "encoding": {"x": {"field": "cat", "type": "nominal"}, "y": {"datum": 0, "type": "quantitative"}, "text": {"field": "label"}}},
  {"transform": [{"filter": "datum.cat == 'P0'"}], "mark": {"type": "text", "baseline": "middle", "dy": 31.5, "font": "Liberation Serif", "fontSize": 10.5, "color": "black"}, "encoding": {"x": {"datum": "P30", "type": "nominal", "bandPosition": 0}, "y": {"datum": 0, "type": "quantitative"}, "text": {"value": "protein"}}},
  {"transform": [{"filter": "datum.cat == 'P0'"}], "mark": {"type": "text", "baseline": "middle", "dy": 31.5, "font": "Liberation Serif", "fontSize": 10.5, "color": "black"}, "encoding": {"x": {"datum": "M30", "type": "nominal"}, "y": {"datum": 0, "type": "quantitative"}, "text": {"value": "mRNA"}}},
  {"transform": [{"filter": "datum.cat == 'P0'"}], "mark": {"type": "text", "baseline": "middle", "dy": 52.5, "dx": 11, "font": "Liberation Serif", "fontSize": 12.5, "color": "black"}, "encoding": {"x": {"datum": "M15", "type": "nominal"}, "y": {"datum": 0, "type": "quantitative"}, "text": {"value": "Emodin level (mg kg⁻¹)"}}}
 ]},
{"width": 377, "height": 207, "title": "Pgk1", "transform": [{"filter": "datum.gene == 'Pgk1'"}],
 "layer": [
  {"mark": {"type": "bar", "width": {"band": 0.33}, "stroke": "#2a2a2a", "strokeWidth": 0.8},
   "encoding": {"x": {"field": "cat", "type": "nominal", "scale": {"domain": ["P0","P30","M0","M15","M30","M60","M120"], "paddingInner": 0, "paddingOuter": 0.589, "align": 0.779}, "axis": null},
    "y": {"field": "mean", "type": "quantitative", "scale": {"domain": [-3.085, 6.895], "nice": false, "zero": false}, "axis": {"values": [0,1,2,3,4,5], "tickCount": 20, "offset": -42.3, "title": "Relative expression", "labelOverlap": false, "labelFlush": false, "format": "~g", "labelBound": false}},
    "fill": {"field": "pat", "type": "nominal", "scale": {"domain": ["protein","diag","wave"], "range": ["#404040","#8c8c8c","#dcdcdc"]}, "legend": null}}},
  {"mark": {"type": "rule", "color": "black"}, "encoding": {"x": {"field": "cat", "type": "nominal"}, "y": {"field": "lo", "type": "quantitative"}, "y2": {"field": "hi"}}},
  {"mark": {"type": "tick", "orient": "horizontal", "size": 6, "thickness": 1, "color": "black", "opacity": 1}, "encoding": {"x": {"field": "cat", "type": "nominal"}, "y": {"field": "lo", "type": "quantitative"}}},
  {"mark": {"type": "tick", "orient": "horizontal", "size": 6, "thickness": 1, "color": "black", "opacity": 1}, "encoding": {"x": {"field": "cat", "type": "nominal"}, "y": {"field": "hi", "type": "quantitative"}}},
  {"transform": [{"filter": "datum.grp == 'mRNA'"}], "mark": {"type": "text", "baseline": "bottom", "dy": -2, "font": "Liberation Serif", "fontSize": 12, "color": "black"}, "encoding": {"x": {"field": "cat", "type": "nominal"}, "y": {"field": "hi", "type": "quantitative"}, "text": {"field": "letter"}}},
  {"transform": [{"filter": "datum.grp == 'protein'"}], "mark": {"type": "rule", "color": "#808080"}, "encoding": {"x": {"field": "cat", "type": "nominal"}, "y": {"field": "hi", "type": "quantitative"}, "y2": {"field": "bracket"}}},
  {"transform": [{"filter": "datum.cat == 'P0'"}], "mark": {"type": "rule", "color": "#808080"}, "encoding": {"x": {"datum": "P0", "type": "nominal"}, "x2": {"datum": "P30"}, "y": {"field": "bracket", "type": "quantitative"}}},
  {"transform": [{"filter": "datum.cat == 'P0'"}], "mark": {"type": "text", "align": "right", "baseline": "middle", "dx": 8, "fontWeight": "bold", "fontSize": 10, "font": "Liberation Serif", "color": "black"}, "encoding": {"x": {"datum": "P30", "type": "nominal", "bandPosition": 0}, "y": {"field": "plevel", "type": "quantitative"}, "text": {"field": "ptext"}}},
  {"transform": [{"filter": "datum.cat == 'P0'"}], "mark": {"type": "text", "align": "right", "baseline": "middle", "dx": -26, "fontWeight": "bold", "fontStyle": "italic", "fontSize": 10, "font": "Liberation Serif", "color": "black"}, "encoding": {"x": {"datum": "P30", "type": "nominal", "bandPosition": 0}, "y": {"field": "plevel", "type": "quantitative"}, "text": {"value": "P"}}},
  {"transform": [{"filter": "datum.cat == 'P0'"}], "mark": {"type": "text", "align": "left", "baseline": "middle", "dx": 16, "fontWeight": "bold", "fontSize": 11, "font": "Liberation Serif", "color": "#555555"}, "encoding": {"x": {"datum": "P30", "type": "nominal", "bandPosition": 0}, "y": {"field": "plevel", "type": "quantitative"}, "text": {"value": "**"}}},
  {"transform": [{"filter": "datum.cat == 'P0'"}], "mark": {"type": "rule", "color": "#808080"}, "encoding": {"x": {"datum": "P0", "type": "nominal", "bandPosition": 0}, "x2": {"datum": "M120", "bandPosition": 1}, "y": {"datum": 0, "type": "quantitative"}}},
  {"transform": [{"filter": "datum.cat == 'P0'"}], "mark": {"type": "rule", "color": "#808080"}, "encoding": {"x": {"datum": "P0", "type": "nominal", "bandPosition": 0}, "y": {"datum": 0, "type": "quantitative"}, "y2": {"datum": 5}}},
  {"transform": [{"filter": "datum.cat != 'P0' && datum.cat != 'M0'"}], "mark": {"type": "rule", "color": "#808080", "y2Offset": 18}, "encoding": {"x": {"field": "cat", "type": "nominal", "bandPosition": 0}, "y": {"datum": 0, "type": "quantitative"}, "y2": {"datum": 0}}},
  {"transform": [{"filter": "datum.cat == 'P0' || datum.cat == 'M0'"}], "mark": {"type": "rule", "color": "#808080", "y2Offset": 36}, "encoding": {"x": {"field": "cat", "type": "nominal", "bandPosition": 0}, "y": {"datum": 0, "type": "quantitative"}, "y2": {"datum": 0}}},
  {"transform": [{"filter": "datum.cat == 'P0'"}], "mark": {"type": "rule", "color": "#808080", "y2Offset": 36}, "encoding": {"x": {"datum": "M120", "type": "nominal", "bandPosition": 1}, "y": {"datum": 0, "type": "quantitative"}, "y2": {"datum": 0}}},
  {"transform": [{"filter": "datum.cat == 'P0'"}], "mark": {"type": "rule", "y2Offset": -11, "strokeDash": [4, 3], "color": "#444444", "strokeWidth": 1.2}, "encoding": {"x": {"datum": "M0", "type": "nominal", "bandPosition": 0}, "y": {"datum": 0, "type": "quantitative"}, "y2": {"datum": 5}}},
  {"mark": {"type": "text", "baseline": "middle", "dy": 13, "font": "Liberation Serif", "fontSize": 12, "color": "black"}, "encoding": {"x": {"field": "cat", "type": "nominal"}, "y": {"datum": 0, "type": "quantitative"}, "text": {"field": "label"}}},
  {"transform": [{"filter": "datum.cat == 'P0'"}], "mark": {"type": "text", "baseline": "middle", "dy": 31.5, "font": "Liberation Serif", "fontSize": 10.5, "color": "black"}, "encoding": {"x": {"datum": "P30", "type": "nominal", "bandPosition": 0}, "y": {"datum": 0, "type": "quantitative"}, "text": {"value": "protein"}}},
  {"transform": [{"filter": "datum.cat == 'P0'"}], "mark": {"type": "text", "baseline": "middle", "dy": 31.5, "font": "Liberation Serif", "fontSize": 10.5, "color": "black"}, "encoding": {"x": {"datum": "M30", "type": "nominal"}, "y": {"datum": 0, "type": "quantitative"}, "text": {"value": "mRNA"}}},
  {"transform": [{"filter": "datum.cat == 'P0'"}], "mark": {"type": "text", "baseline": "middle", "dy": 52.5, "dx": 14, "font": "Liberation Serif", "fontSize": 12.5, "color": "black"}, "encoding": {"x": {"datum": "M15", "type": "nominal"}, "y": {"datum": 0, "type": "quantitative"}, "text": {"value": "Emodin level (mg kg⁻¹)"}}}
 ]}
], "spacing": 21},
{"hconcat": [
{"width": 376, "height": 207, "title": "Aldh8a1", "transform": [{"filter": "datum.gene == 'Aldh8a1'"}],
 "layer": [
  {"mark": {"type": "bar", "width": {"band": 0.33}, "stroke": "#2a2a2a", "strokeWidth": 0.8},
   "encoding": {"x": {"field": "cat", "type": "nominal", "scale": {"domain": ["P0","P30","M0","M15","M30","M60","M120"], "paddingInner": 0, "paddingOuter": 0.71, "align": 0.815}, "axis": null},
    "y": {"field": "mean", "type": "quantitative", "scale": {"domain": [-0.3085, 0.6895], "nice": false, "zero": false}, "axis": {"values": [0,0.1,0.2,0.3,0.4,0.5], "tickCount": 20, "offset": -51.7, "title": "Relative expression", "labelOverlap": false, "labelFlush": false, "format": "~g", "labelBound": false}},
    "fill": {"field": "pat", "type": "nominal", "scale": {"domain": ["protein","diag","wave"], "range": ["#404040","#8c8c8c","#dcdcdc"]}, "legend": null}}},
  {"mark": {"type": "rule", "color": "black"}, "encoding": {"x": {"field": "cat", "type": "nominal"}, "y": {"field": "lo", "type": "quantitative"}, "y2": {"field": "hi"}}},
  {"mark": {"type": "tick", "orient": "horizontal", "size": 6, "thickness": 1, "color": "black", "opacity": 1}, "encoding": {"x": {"field": "cat", "type": "nominal"}, "y": {"field": "lo", "type": "quantitative"}}},
  {"mark": {"type": "tick", "orient": "horizontal", "size": 6, "thickness": 1, "color": "black", "opacity": 1}, "encoding": {"x": {"field": "cat", "type": "nominal"}, "y": {"field": "hi", "type": "quantitative"}}},
  {"transform": [{"filter": "datum.grp == 'mRNA'"}], "mark": {"type": "text", "baseline": "bottom", "dy": -2, "font": "Liberation Serif", "fontSize": 12, "color": "black"}, "encoding": {"x": {"field": "cat", "type": "nominal"}, "y": {"field": "hi", "type": "quantitative"}, "text": {"field": "letter"}}},
  {"transform": [{"filter": "datum.grp == 'protein'"}], "mark": {"type": "rule", "color": "#808080"}, "encoding": {"x": {"field": "cat", "type": "nominal"}, "y": {"field": "hi", "type": "quantitative"}, "y2": {"field": "bracket"}}},
  {"transform": [{"filter": "datum.cat == 'P0'"}], "mark": {"type": "rule", "color": "#808080"}, "encoding": {"x": {"datum": "P0", "type": "nominal"}, "x2": {"datum": "P30"}, "y": {"field": "bracket", "type": "quantitative"}}},
  {"transform": [{"filter": "datum.cat == 'P0'"}], "mark": {"type": "text", "align": "right", "baseline": "middle", "dx": 8, "fontWeight": "bold", "fontSize": 10, "font": "Liberation Serif", "color": "black"}, "encoding": {"x": {"datum": "P30", "type": "nominal", "bandPosition": 0}, "y": {"field": "plevel", "type": "quantitative"}, "text": {"field": "ptext"}}},
  {"transform": [{"filter": "datum.cat == 'P0'"}], "mark": {"type": "text", "align": "right", "baseline": "middle", "dx": -26, "fontWeight": "bold", "fontStyle": "italic", "fontSize": 10, "font": "Liberation Serif", "color": "black"}, "encoding": {"x": {"datum": "P30", "type": "nominal", "bandPosition": 0}, "y": {"field": "plevel", "type": "quantitative"}, "text": {"value": "P"}}},
  {"transform": [{"filter": "datum.cat == 'P0'"}], "mark": {"type": "text", "align": "left", "baseline": "middle", "dx": 16, "fontWeight": "bold", "fontSize": 11, "font": "Liberation Serif", "color": "#555555"}, "encoding": {"x": {"datum": "P30", "type": "nominal", "bandPosition": 0}, "y": {"field": "plevel", "type": "quantitative"}, "text": {"value": "**"}}},
  {"transform": [{"filter": "datum.cat == 'P0'"}], "mark": {"type": "rule", "color": "#808080"}, "encoding": {"x": {"datum": "P0", "type": "nominal", "bandPosition": 0}, "x2": {"datum": "M120", "bandPosition": 1}, "y": {"datum": 0, "type": "quantitative"}}},
  {"transform": [{"filter": "datum.cat == 'P0'"}], "mark": {"type": "rule", "color": "#808080"}, "encoding": {"x": {"datum": "P0", "type": "nominal", "bandPosition": 0}, "y": {"datum": 0, "type": "quantitative"}, "y2": {"datum": 0.5}}},
  {"transform": [{"filter": "datum.cat != 'P0' && datum.cat != 'M0'"}], "mark": {"type": "rule", "color": "#808080", "y2Offset": 18}, "encoding": {"x": {"field": "cat", "type": "nominal", "bandPosition": 0}, "y": {"datum": 0, "type": "quantitative"}, "y2": {"datum": 0}}},
  {"transform": [{"filter": "datum.cat == 'P0' || datum.cat == 'M0'"}], "mark": {"type": "rule", "color": "#808080", "y2Offset": 36}, "encoding": {"x": {"field": "cat", "type": "nominal", "bandPosition": 0}, "y": {"datum": 0, "type": "quantitative"}, "y2": {"datum": 0}}},
  {"transform": [{"filter": "datum.cat == 'P0'"}], "mark": {"type": "rule", "color": "#808080", "y2Offset": 36}, "encoding": {"x": {"datum": "M120", "type": "nominal", "bandPosition": 1}, "y": {"datum": 0, "type": "quantitative"}, "y2": {"datum": 0}}},
  {"transform": [{"filter": "datum.cat == 'P0'"}], "mark": {"type": "rule", "y2Offset": -11, "strokeDash": [4, 3], "color": "#444444", "strokeWidth": 1.2}, "encoding": {"x": {"datum": "M0", "type": "nominal", "bandPosition": 0}, "y": {"datum": 0, "type": "quantitative"}, "y2": {"datum": 0.5}}},
  {"mark": {"type": "text", "baseline": "middle", "dy": 13, "font": "Liberation Serif", "fontSize": 12, "color": "black"}, "encoding": {"x": {"field": "cat", "type": "nominal"}, "y": {"datum": 0, "type": "quantitative"}, "text": {"field": "label"}}},
  {"transform": [{"filter": "datum.cat == 'P0'"}], "mark": {"type": "text", "baseline": "middle", "dy": 31.5, "font": "Liberation Serif", "fontSize": 10.5, "color": "black"}, "encoding": {"x": {"datum": "P30", "type": "nominal", "bandPosition": 0}, "y": {"datum": 0, "type": "quantitative"}, "text": {"value": "protein"}}},
  {"transform": [{"filter": "datum.cat == 'P0'"}], "mark": {"type": "text", "baseline": "middle", "dy": 31.5, "font": "Liberation Serif", "fontSize": 10.5, "color": "black"}, "encoding": {"x": {"datum": "M30", "type": "nominal"}, "y": {"datum": 0, "type": "quantitative"}, "text": {"value": "mRNA"}}},
  {"transform": [{"filter": "datum.cat == 'P0'"}], "mark": {"type": "text", "baseline": "middle", "dy": 52.5, "dx": 0, "font": "Liberation Serif", "fontSize": 10.5, "color": "black"}, "encoding": {"x": {"datum": "M15", "type": "nominal"}, "y": {"datum": 0, "type": "quantitative"}, "text": {"value": "Emodin level (mg kg⁻¹)"}}}
 ]},
{"width": 377, "height": 207, "title": "Sord", "transform": [{"filter": "datum.gene == 'Sord'"}],
 "layer": [
  {"mark": {"type": "bar", "width": {"band": 0.33}, "stroke": "#2a2a2a", "strokeWidth": 0.8},
   "encoding": {"x": {"field": "cat", "type": "nominal", "scale": {"domain": ["P0","P30","M0","M15","M30","M60","M120"], "paddingInner": 0, "paddingOuter": 0.706, "align": 0.81}, "axis": null},
    "y": {"field": "mean", "type": "quantitative", "scale": {"domain": [-1.5425, 3.4475], "nice": false, "zero": false}, "axis": {"values": [0,0.5,1,1.5,2,2.5], "tickCount": 20, "offset": -51.3, "title": "Relative expression", "labelOverlap": false, "labelFlush": false, "format": "~g", "labelBound": false}},
    "fill": {"field": "pat", "type": "nominal", "scale": {"domain": ["protein","diag","wave"], "range": ["#404040","#8c8c8c","#dcdcdc"]}, "legend": null}}},
  {"mark": {"type": "rule", "color": "black"}, "encoding": {"x": {"field": "cat", "type": "nominal"}, "y": {"field": "lo", "type": "quantitative"}, "y2": {"field": "hi"}}},
  {"mark": {"type": "tick", "orient": "horizontal", "size": 6, "thickness": 1, "color": "black", "opacity": 1}, "encoding": {"x": {"field": "cat", "type": "nominal"}, "y": {"field": "lo", "type": "quantitative"}}},
  {"mark": {"type": "tick", "orient": "horizontal", "size": 6, "thickness": 1, "color": "black", "opacity": 1}, "encoding": {"x": {"field": "cat", "type": "nominal"}, "y": {"field": "hi", "type": "quantitative"}}},
  {"transform": [{"filter": "datum.grp == 'mRNA'"}], "mark": {"type": "text", "baseline": "bottom", "dy": -2, "font": "Liberation Serif", "fontSize": 12, "color": "black"}, "encoding": {"x": {"field": "cat", "type": "nominal"}, "y": {"field": "hi", "type": "quantitative"}, "text": {"field": "letter"}}},
  {"transform": [{"filter": "datum.grp == 'protein'"}], "mark": {"type": "rule", "color": "#808080"}, "encoding": {"x": {"field": "cat", "type": "nominal"}, "y": {"field": "hi", "type": "quantitative"}, "y2": {"field": "bracket"}}},
  {"transform": [{"filter": "datum.cat == 'P0'"}], "mark": {"type": "rule", "color": "#808080"}, "encoding": {"x": {"datum": "P0", "type": "nominal"}, "x2": {"datum": "P30"}, "y": {"field": "bracket", "type": "quantitative"}}},
  {"transform": [{"filter": "datum.cat == 'P0'"}], "mark": {"type": "text", "align": "right", "baseline": "middle", "dx": 8, "fontWeight": "bold", "fontSize": 10, "font": "Liberation Serif", "color": "black"}, "encoding": {"x": {"datum": "P30", "type": "nominal", "bandPosition": 0}, "y": {"field": "plevel", "type": "quantitative"}, "text": {"field": "ptext"}}},
  {"transform": [{"filter": "datum.cat == 'P0'"}], "mark": {"type": "text", "align": "right", "baseline": "middle", "dx": -26, "fontWeight": "bold", "fontStyle": "italic", "fontSize": 10, "font": "Liberation Serif", "color": "black"}, "encoding": {"x": {"datum": "P30", "type": "nominal", "bandPosition": 0}, "y": {"field": "plevel", "type": "quantitative"}, "text": {"value": "P"}}},
  {"transform": [{"filter": "datum.cat == 'P0'"}], "mark": {"type": "text", "align": "left", "baseline": "middle", "dx": 16, "fontWeight": "bold", "fontSize": 11, "font": "Liberation Serif", "color": "#555555"}, "encoding": {"x": {"datum": "P30", "type": "nominal", "bandPosition": 0}, "y": {"field": "plevel", "type": "quantitative"}, "text": {"value": "**"}}},
  {"transform": [{"filter": "datum.cat == 'P0'"}], "mark": {"type": "rule", "color": "#808080"}, "encoding": {"x": {"datum": "P0", "type": "nominal", "bandPosition": 0}, "x2": {"datum": "M120", "bandPosition": 1}, "y": {"datum": 0, "type": "quantitative"}}},
  {"transform": [{"filter": "datum.cat == 'P0'"}], "mark": {"type": "rule", "color": "#808080"}, "encoding": {"x": {"datum": "P0", "type": "nominal", "bandPosition": 0}, "y": {"datum": 0, "type": "quantitative"}, "y2": {"datum": 2.5}}},
  {"transform": [{"filter": "datum.cat != 'P0' && datum.cat != 'M0'"}], "mark": {"type": "rule", "color": "#808080", "y2Offset": 18}, "encoding": {"x": {"field": "cat", "type": "nominal", "bandPosition": 0}, "y": {"datum": 0, "type": "quantitative"}, "y2": {"datum": 0}}},
  {"transform": [{"filter": "datum.cat == 'P0' || datum.cat == 'M0'"}], "mark": {"type": "rule", "color": "#808080", "y2Offset": 36}, "encoding": {"x": {"field": "cat", "type": "nominal", "bandPosition": 0}, "y": {"datum": 0, "type": "quantitative"}, "y2": {"datum": 0}}},
  {"transform": [{"filter": "datum.cat == 'P0'"}], "mark": {"type": "rule", "color": "#808080", "y2Offset": 36}, "encoding": {"x": {"datum": "M120", "type": "nominal", "bandPosition": 1}, "y": {"datum": 0, "type": "quantitative"}, "y2": {"datum": 0}}},
  {"transform": [{"filter": "datum.cat == 'P0'"}], "mark": {"type": "rule", "y2Offset": -11, "strokeDash": [4, 3], "color": "#444444", "strokeWidth": 1.2}, "encoding": {"x": {"datum": "M0", "type": "nominal", "bandPosition": 0}, "y": {"datum": 0, "type": "quantitative"}, "y2": {"datum": 2.5}}},
  {"mark": {"type": "text", "baseline": "middle", "dy": 13, "font": "Liberation Serif", "fontSize": 12, "color": "black"}, "encoding": {"x": {"field": "cat", "type": "nominal"}, "y": {"datum": 0, "type": "quantitative"}, "text": {"field": "label"}}},
  {"transform": [{"filter": "datum.cat == 'P0'"}], "mark": {"type": "text", "baseline": "middle", "dy": 31.5, "font": "Liberation Serif", "fontSize": 10.5, "color": "black"}, "encoding": {"x": {"datum": "P30", "type": "nominal", "bandPosition": 0}, "y": {"datum": 0, "type": "quantitative"}, "text": {"value": "protein"}}},
  {"transform": [{"filter": "datum.cat == 'P0'"}], "mark": {"type": "text", "baseline": "middle", "dy": 31.5, "font": "Liberation Serif", "fontSize": 10.5, "color": "black"}, "encoding": {"x": {"datum": "M30", "type": "nominal"}, "y": {"datum": 0, "type": "quantitative"}, "text": {"value": "mRNA"}}},
  {"transform": [{"filter": "datum.cat == 'P0'"}], "mark": {"type": "text", "baseline": "middle", "dy": 52.5, "dx": 10, "font": "Liberation Serif", "fontSize": 12.5, "color": "black"}, "encoding": {"x": {"datum": "M15", "type": "nominal"}, "y": {"datum": 0, "type": "quantitative"}, "text": {"value": "Emodin level (mg kg⁻¹)"}}}
 ]}
], "spacing": 21}
],
"config": {
 "font": "Liberation Serif",
 "view": {"stroke": "#808080", "strokeWidth": 1.3},
 "axisX": {"disable": true},
 "axisY": {"domain": false, "grid": false, "tickSize": 4, "tickColor": "#808080", "labelFont": "Liberation Serif", "labelFontSize": 12, "labelColor": "black", "labelPadding": 3, "labelOverlap": false, "labelFlush": false, "format": "~g", "titleFont": "Liberation Serif", "titleFontSize": 12.5, "titleFontWeight": "normal", "titleColor": "black", "titlePadding": 4},
 "title": {"font": "Liberation Serif", "fontSize": 17, "fontWeight": "normal", "color": "black", "offset": -26, "anchor": "middle", "frame": "group", "baseline": "alphabetic"},
 "rule": {"color": "#808080", "strokeWidth": 1}
}
}
